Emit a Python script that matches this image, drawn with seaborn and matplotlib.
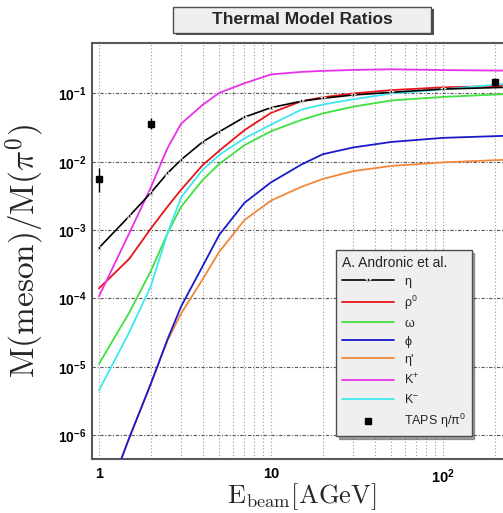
import matplotlib
matplotlib.use("Agg")
import matplotlib.pyplot as plt
import matplotlib.ticker as mticker
from matplotlib.lines import Line2D
from matplotlib.patches import Rectangle
import numpy as np
import pandas as pd
import seaborn as sns

# beam energies (AGeV) of the thermal model points
energy = [1, 1.5, 2, 2.5, 3, 4, 5, 7, 10, 15, 20, 30, 50, 100, 230]
eta = [5.5e-4, 1.6e-3, 3.5e-3, 6.8e-3, 1.07e-2, 1.95e-2, 2.75e-2, 4.5e-2, 6.2e-2,
       7.7e-2, 8.5e-2, 9.5e-2, 0.104, 0.116, 0.123]
rho0 = [1.4e-4, 3.8e-4, 1.05e-3, 2.2e-3, 3.9e-3, 8.9e-3, 1.45e-2, 2.9e-2, 5.2e-2,
        7.7e-2, 8.8e-2, 0.100, 0.112, 0.123, 0.129]
omega = [1.1e-5, 6.2e-5, 2.5e-4, 8.9e-4, 2.2e-3, 5.4e-3, 9.3e-3, 1.75e-2, 2.8e-2,
         4.1e-2, 5.1e-2, 6.4e-2, 7.9e-2, 8.9e-2, 9.8e-2]
kminus = [4.5e-6, 3.2e-5, 1.5e-4, 8.9e-4, 3.0e-3, 7.6e-3, 1.26e-2, 2.2e-2, 3.5e-2,
          5.8e-2, 6.9e-2, 8.2e-2, 0.100, 0.115, 0.138]
kplus = [1.07e-4, 9.0e-4, 4.2e-3, 1.58e-2, 3.6e-2, 6.8e-2, 0.102, 0.141, 0.190,
         0.207, 0.214, 0.221, 0.226, 0.220, 0.216]

# phi and eta' start below the visible range
energy_heavy = [1.3, 1.5, 2, 2.5, 3, 4, 5, 7, 10, 15, 20, 30, 50, 100, 230]
phi = [3.5e-7, 9.1e-7, 5.6e-6, 2.5e-5, 7.6e-5, 2.95e-4, 8.5e-4, 2.5e-3, 5.0e-3,
       9.1e-3, 1.29e-2, 1.62e-2, 1.95e-2, 2.24e-2, 2.4e-2]
etaprime = [3.5e-7, 9.1e-7, 5.6e-6, 2.4e-5, 6.0e-5, 1.9e-4, 4.8e-4, 1.4e-3, 2.7e-3,
            4.3e-3, 5.6e-3, 7.3e-3, 8.7e-3, 9.8e-3, 1.07e-2]

# TAPS eta/pi0 measurements
taps_e = [1, 2, 200]
taps_r = [5.6e-3, 3.6e-2, 0.145]
taps_lo = [3.6e-3, 3.05e-2, 0.126]
taps_hi = [8.1e-3, 4.4e-2, 0.170]

sns.set_style("white")
plt.rcParams['font.family'] = ['Liberation Sans', 'DejaVu Sans']

fig = plt.figure(figsize=(5.03, 5.13), dpi=100)
ax = fig.add_axes([92/503, 1-459/513, 411/503, 416/513])
ax.set_xscale('log')
ax.set_yscale('log')

sup = lambda s: r'$^{\mathdefault{%s}}$' % s
curves = [
    ('η', energy, eta, 'black', 4),
    ('ρ' + sup('0'), energy, rho0, '#e8141a', 3),
    ('ω', energy, omega, '#3fe03f', 3),
    ('ϕ', energy_heavy, phi, '#1a1acc', 3.5),
    ("η'", energy_heavy, etaprime, '#f0883a', 3),
    ('K' + sup('+'), energy, kplus, '#e832e8', 3),
    ('K' + sup('-'), energy, kminus, '#3ee8ee', 3),
]
for lab, xs, ys, col, z in curves:
    df = pd.DataFrame({'E': xs, 'ratio': ys})
    if lab == 'η':
        sns.lineplot(data=df, x='E', y='ratio', color=col, lw=1.2, marker='*',
                     markersize=5, markeredgewidth=0.5, label=lab, ax=ax,
                     estimator=None, sort=False, zorder=z)
    else:
        sns.lineplot(data=df, x='E', y='ratio', color=col, lw=1.3, label=lab, ax=ax,
                     estimator=None, sort=False, zorder=z)

yerr = [np.array(taps_r) - np.array(taps_lo), np.array(taps_hi) - np.array(taps_r)]
ax.errorbar(taps_e, taps_r, yerr=yerr, fmt='s', color='black', ms=5, elinewidth=1,
            capsize=0, zorder=5)

ax.set_xlim(0.911, 223)
ax.set_ylim(4.46e-7, 0.548)

ax.xaxis.set_major_locator(mticker.FixedLocator([1, 10, 100]))
ax.xaxis.set_minor_locator(mticker.LogLocator(base=10, subs=np.arange(2, 10), numticks=20))
ax.yaxis.set_major_locator(mticker.FixedLocator([1e-6, 1e-5, 1e-4, 1e-3, 1e-2, 1e-1]))
ax.yaxis.set_minor_locator(mticker.LogLocator(base=10, subs=np.arange(2, 10), numticks=20))
ax.xaxis.set_major_formatter(mticker.FixedFormatter(['1', '10', r'$\mathdefault{10^{2}}$']))
ax.yaxis.set_major_formatter(mticker.LogFormatterSciNotation())
ax.xaxis.set_minor_formatter(mticker.NullFormatter())
ax.yaxis.set_minor_formatter(mticker.NullFormatter())

ax.tick_params(which='both', direction='in', top=False, right=False, colors='0.3')
ax.tick_params(which='major', length=8, width=1)
ax.tick_params(which='minor', length=4, width=0.8)
ax.tick_params(axis='x', which='major', pad=6, labelsize=10.5, labelcolor='black')
ax.tick_params(axis='y', which='major', pad=4, labelsize=10, labelcolor='black')
for t in ax.get_xticklabels() + ax.get_yticklabels():
    t.set_fontweight('bold')

ax.grid(which='major', axis='y', color='0.35', lw=0.8, ls=(0, (3, 1.5, 1, 1.5)))
ax.grid(which='both', axis='x', color='0.6', lw=0.8, ls=(0, (1, 2)))
for s in ['left', 'bottom', 'top']:
    ax.spines[s].set_color('0.35')
    ax.spines[s].set_linewidth(1.5)
ax.spines['right'].set_visible(False)

ax.set_ylabel(r'$\mathrm{M(meson)/M(}\pi^{0}\mathrm{)}$', fontsize=24, math_fontfamily='cm')
ax.yaxis.set_label_coords(-0.112, 0.5)
ax.set_xlabel(r'$\mathrm{E_{beam}[AGeV]}$', fontsize=19, math_fontfamily='cm')
ax.xaxis.set_label_coords(0.51, -0.054)

handles, labels = ax.get_legend_handles_labels()
handles.append(Line2D([], [], marker='s', ls='none', color='black', ms=5))
labels.append('TAPS η/π' + sup('0'))
leg = ax.legend(handles, labels, loc='upper left', bbox_to_anchor=(336/503, 1-250/513),
                bbox_transform=fig.transFigure, borderaxespad=0, fontsize=9,
                title='A. Andronic et al.', title_fontsize=10, alignment='left',
                frameon=True, fancybox=False, shadow=True, framealpha=1,
                facecolor='#efefef', edgecolor='0.3', handlelength=4.2,
                handletextpad=0.8, labelspacing=0.48, borderpad=0.45)
leg.get_frame().set_linewidth(1)

# title box
fig.patches.append(Rectangle((176/503, 1-35/513), 258/503, 26/513, transform=fig.transFigure,
                             fc='0.3', ec='none', zorder=1))
fig.patches.append(Rectangle((173/503, 1-33/513), 258/503, 26/513, transform=fig.transFigure,
                             fc='#efefef', ec='0.3', lw=1, zorder=2))
fig.text(302/503, 1-20/513, 'Thermal Model Ratios', ha='center', va='center',
         fontsize=12.5, fontweight='bold', zorder=3)

fig.savefig('out.png', dpi=100)
